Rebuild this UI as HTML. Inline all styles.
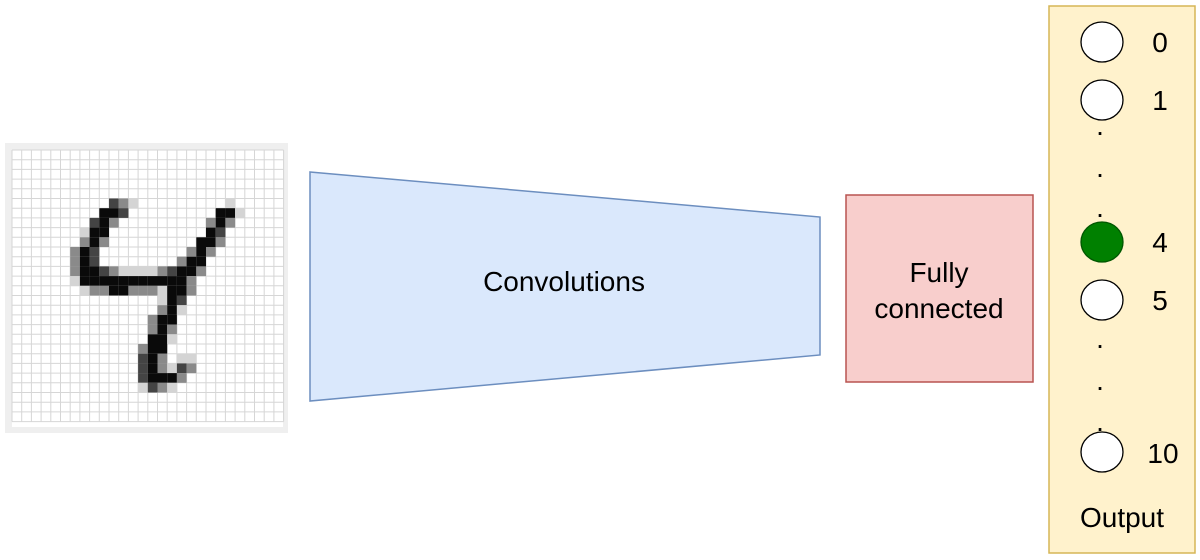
<!DOCTYPE html>
<html><head><meta charset="utf-8"><style>
html,body{margin:0;padding:0;background:#fff;width:1200px;height:560px;overflow:hidden}
svg{display:block}
text{font-family:"Liberation Sans",Arial,sans-serif;fill:#000}
</style></head><body>
<svg id="s" width="1200" height="560" viewBox="0 0 1200 560" xmlns="http://www.w3.org/2000/svg">
<rect x="5" y="143" width="283" height="290" fill="#efefef"/>
<rect x="12" y="150" width="271" height="277" fill="#fff"/>
<g id="grid" stroke="#d6d6d6" stroke-width="1"></g>
<g id="cells"></g>
<polygon points="310,172 820,217 820,355 310,401" fill="#dae8fc" stroke="#6c8ebf" stroke-width="1.5"/>
<text x="564" y="291" font-size="28" text-anchor="middle">Convolutions</text>
<rect x="846" y="195" width="187" height="187" fill="#f8cecc" stroke="#b85450" stroke-width="1.5"/>
<text x="939" y="282" font-size="28" text-anchor="middle">Fully</text>
<text x="939" y="318" font-size="28" text-anchor="middle">connected</text>
<rect x="1049" y="6" width="146" height="547" fill="#fff2cc" stroke="#d6b656" stroke-width="1.5"/>
<g stroke="#000" stroke-width="1.3">
<ellipse cx="1102" cy="42" rx="21" ry="20" fill="#fff"/>
<ellipse cx="1102" cy="100" rx="21" ry="20" fill="#fff"/>
<ellipse cx="1102" cy="242" rx="21" ry="20" fill="#008000" stroke="#005700"/>
<ellipse cx="1102" cy="300" rx="21" ry="20" fill="#fff"/>
<ellipse cx="1102" cy="452" rx="21" ry="20" fill="#fff"/>
</g>
<g font-size="28">
<text x="1160" y="52" text-anchor="middle">0</text>
<text x="1160" y="110" text-anchor="middle">1</text>
<text x="1160" y="252" text-anchor="middle">4</text>
<text x="1160" y="310" text-anchor="middle">5</text>
<text x="1163" y="463" text-anchor="middle">10</text>
<text x="1122" y="527" text-anchor="middle">Output</text>
<text x="1100" y="135" text-anchor="middle">.</text>
<text x="1100" y="177" text-anchor="middle">.</text>
<text x="1100" y="217" text-anchor="middle">.</text>
<text x="1100" y="348" text-anchor="middle">.</text>
<text x="1100" y="390" text-anchor="middle">.</text>
<text x="1100" y="431" text-anchor="middle">.</text>
</g>
</svg>
<script>
(function(){
var ns="http://www.w3.org/2000/svg",x0=12,y0=150,c=9.7;
var B="#0a0a0a",D="#444",G="#8a8a8a",L="#d4d4d4";
var d={5:{10:D,11:G,12:L,22:L},6:{9:B,10:B,11:D,21:B,22:B,23:L},7:{8:D,9:B,10:G,20:G,21:B,22:G},
8:{7:L,8:B,9:B,20:B,21:D},9:{7:G,8:B,9:G,19:B,20:B,21:G},10:{6:G,7:B,8:D,18:G,19:B,20:G},
11:{6:G,7:B,8:D,17:G,18:B,19:B},12:{6:G,7:B,8:B,9:D,10:G,11:L,12:L,13:L,14:L,15:G,16:D,17:B,18:B,19:G},
13:{6:L,7:B,8:B,9:B,10:B,11:B,12:B,13:B,14:B,15:B,16:B,17:B,18:G},
14:{7:L,8:G,9:G,10:B,11:B,12:G,13:G,14:G,15:L,16:B,17:B,18:G},15:{15:L,16:B,17:D},16:{15:G,16:B,17:L},
17:{14:G,15:B,16:B},18:{14:G,15:B,16:G},19:{14:B,15:B,16:L},20:{13:G,14:B,15:B},
21:{13:D,14:B,15:G,17:L,18:L},22:{13:D,14:B,15:G,16:L,17:D,18:G},23:{13:D,14:B,15:B,16:B,17:G},24:{13:L,14:D,15:G,16:L}};
var cg=document.getElementById("cells"),gg=document.getElementById("grid");
for(var r in d)for(var k in d[r]){var e=document.createElementNS(ns,"rect");
e.setAttribute("x",x0+k*c);e.setAttribute("y",y0+r*c);e.setAttribute("width",c);e.setAttribute("height",c);e.setAttribute("fill",d[r][k]);cg.appendChild(e);}
for(var i=0;i<=28;i++){var l=document.createElementNS(ns,"line");l.setAttribute("x1",x0+i*c);l.setAttribute("x2",x0+i*c);l.setAttribute("y1",y0);l.setAttribute("y2",y0+28*c);gg.appendChild(l);
var m=document.createElementNS(ns,"line");m.setAttribute("y1",y0+i*c);m.setAttribute("y2",y0+i*c);m.setAttribute("x1",x0);m.setAttribute("x2",x0+28*c);gg.appendChild(m);}
})();
</script>
</body></html>
